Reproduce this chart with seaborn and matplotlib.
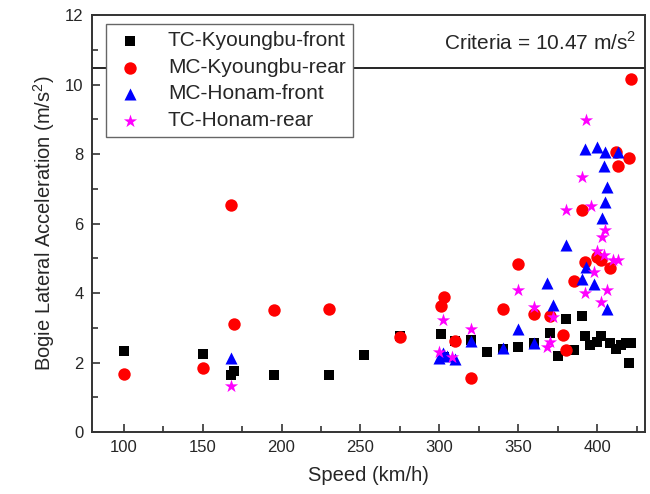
import numpy as np
import pandas as pd
import matplotlib
matplotlib.use("Agg")
import matplotlib.pyplot as plt
from matplotlib.ticker import MultipleLocator
import seaborn as sns

sns.set_theme(style="white")
plt.rcParams['font.family'] = ['Liberation Sans', 'DejaVu Sans']
plt.rcParams['mathtext.fontset'] = 'custom'
plt.rcParams['mathtext.rm'] = 'Liberation Sans'

series_names = ["TC-Kyoungbu-front", "MC-Kyoungbu-rear", "MC-Honam-front", "TC-Honam-rear"]

tc_kb_speed = [100, 150, 168, 170, 195, 230, 252, 275, 301, 303, 310, 320, 330, 340, 350,
               360, 370, 375, 380, 385, 390, 392, 395, 400, 402, 408, 412, 415, 418, 420, 421]
tc_kb_acc = [2.33, 2.25, 1.65, 1.75, 1.65, 1.65, 2.22, 2.75, 2.82, 2.15, 2.62, 2.65, 2.3, 2.4, 2.45,
             2.55, 2.85, 2.2, 3.25, 2.35, 3.35, 2.75, 2.5, 2.6, 2.75, 2.55, 2.4, 2.5, 2.55, 2.0, 2.55]

mc_kb_speed = [100, 150, 168, 170, 195, 230, 275, 301, 303, 310, 320, 340, 350, 360, 370,
               378, 380, 385, 390, 392, 400, 402, 408, 412, 413, 420, 421]
mc_kb_acc = [1.68, 1.85, 6.52, 3.1, 3.52, 3.55, 2.72, 3.62, 3.88, 2.62, 1.55, 3.55, 4.83, 3.4, 3.35,
             2.8, 2.35, 4.35, 6.4, 4.9, 5.05, 4.95, 4.72, 8.05, 7.65, 7.88, 10.15]

mc_hn_speed = [168, 300, 302, 305, 310, 320, 340, 350, 360, 368, 372, 380, 390, 392, 393,
               398, 400, 403, 404, 405, 405, 406, 406, 413]
mc_hn_acc = [2.12, 2.12, 2.28, 2.2, 2.1, 2.62, 2.42, 2.95, 2.55, 4.28, 3.65, 5.38, 4.4, 8.15, 4.75,
             4.25, 8.2, 6.15, 7.65, 8.05, 6.62, 7.05, 3.55, 8.05]

tc_hn_speed = [168, 300, 302, 308, 320, 350, 360, 368, 370, 372, 380, 390, 392, 393, 396,
               398, 400, 402, 403, 404, 405, 406, 410, 413]
tc_hn_acc = [1.32, 2.3, 3.22, 2.15, 2.95, 4.1, 3.6, 2.45, 2.6, 3.3, 6.4, 7.35, 4.0, 8.98, 6.5,
             4.6, 5.2, 3.75, 5.6, 5.1, 5.8, 4.1, 4.95, 4.95]

criteria = 10.47

frames = []
for name, sp, ac in zip(series_names,
                        [tc_kb_speed, mc_kb_speed, mc_hn_speed, tc_hn_speed],
                        [tc_kb_acc, mc_kb_acc, mc_hn_acc, tc_hn_acc]):
    frames.append(pd.DataFrame({"Speed": sp, "Acc": ac, "Series": name}))
df = pd.concat(frames, ignore_index=True)

palette = {"TC-Kyoungbu-front": "black", "MC-Kyoungbu-rear": "#ff0000",
           "MC-Honam-front": "#0000ff", "TC-Honam-rear": "#ff00ff"}
markers = {"TC-Kyoungbu-front": "s", "MC-Kyoungbu-rear": "o",
           "MC-Honam-front": "^", "TC-Honam-rear": "*"}
sizes = {"TC-Kyoungbu-front": 60, "MC-Kyoungbu-rear": 80,
         "MC-Honam-front": 75, "TC-Honam-rear": 100}

fig = plt.figure(figsize=(6.5, 4.94), dpi=100)
ax = fig.add_axes([0.1415, 0.1255, 0.8505, 0.8441])

ax.axhline(criteria, color="black", lw=1.2, zorder=1)

for name in series_names:
    sub = df[df["Series"] == name]
    sns.scatterplot(data=sub, x="Speed", y="Acc", ax=ax, color=palette[name],
                    marker=markers[name], s=sizes[name], linewidth=0,
                    label=name, zorder=3)

ax.set_xlim(80, 430)
ax.set_ylim(0, 12)
ax.xaxis.set_minor_locator(MultipleLocator(25))
ax.yaxis.set_major_locator(MultipleLocator(2))
ax.yaxis.set_minor_locator(MultipleLocator(1))
ax.set_xticks([100, 150, 200, 250, 300, 350, 400])
ax.tick_params(which="both", direction="in", bottom=True, left=True, top=False, right=False,
               labelsize=12, color="#333333", width=1.2, pad=6)
ax.tick_params(which="major", length=6)
ax.tick_params(which="minor", length=4)
for sp in ax.spines.values():
    sp.set_color("#333333")
    sp.set_linewidth(1.4)

ax.set_xlabel("Speed (km/h)", fontsize=14.5, labelpad=8)
ax.set_ylabel("Bogie Lateral Acceleration (m/s$^2$)", fontsize=14.5, labelpad=6)

ax.text(0.985, 0.935, "Criteria = 10.47 m/s$^2$", transform=ax.transAxes,
        ha="right", va="center", fontsize=15)

leg = ax.legend(loc="upper left", bbox_to_anchor=(0.026, 0.978), frameon=True, fancybox=False,
                fontsize=15, borderpad=0.35, labelspacing=0.36, handletextpad=1.0,
                borderaxespad=0, markerscale=1.0, handlelength=1.6)
leg.get_frame().set_edgecolor("#666666")
leg.get_frame().set_linewidth(1.0)
leg.get_frame().set_alpha(1)
leg.set_zorder(5)

fig.savefig("out.png", dpi=100)
